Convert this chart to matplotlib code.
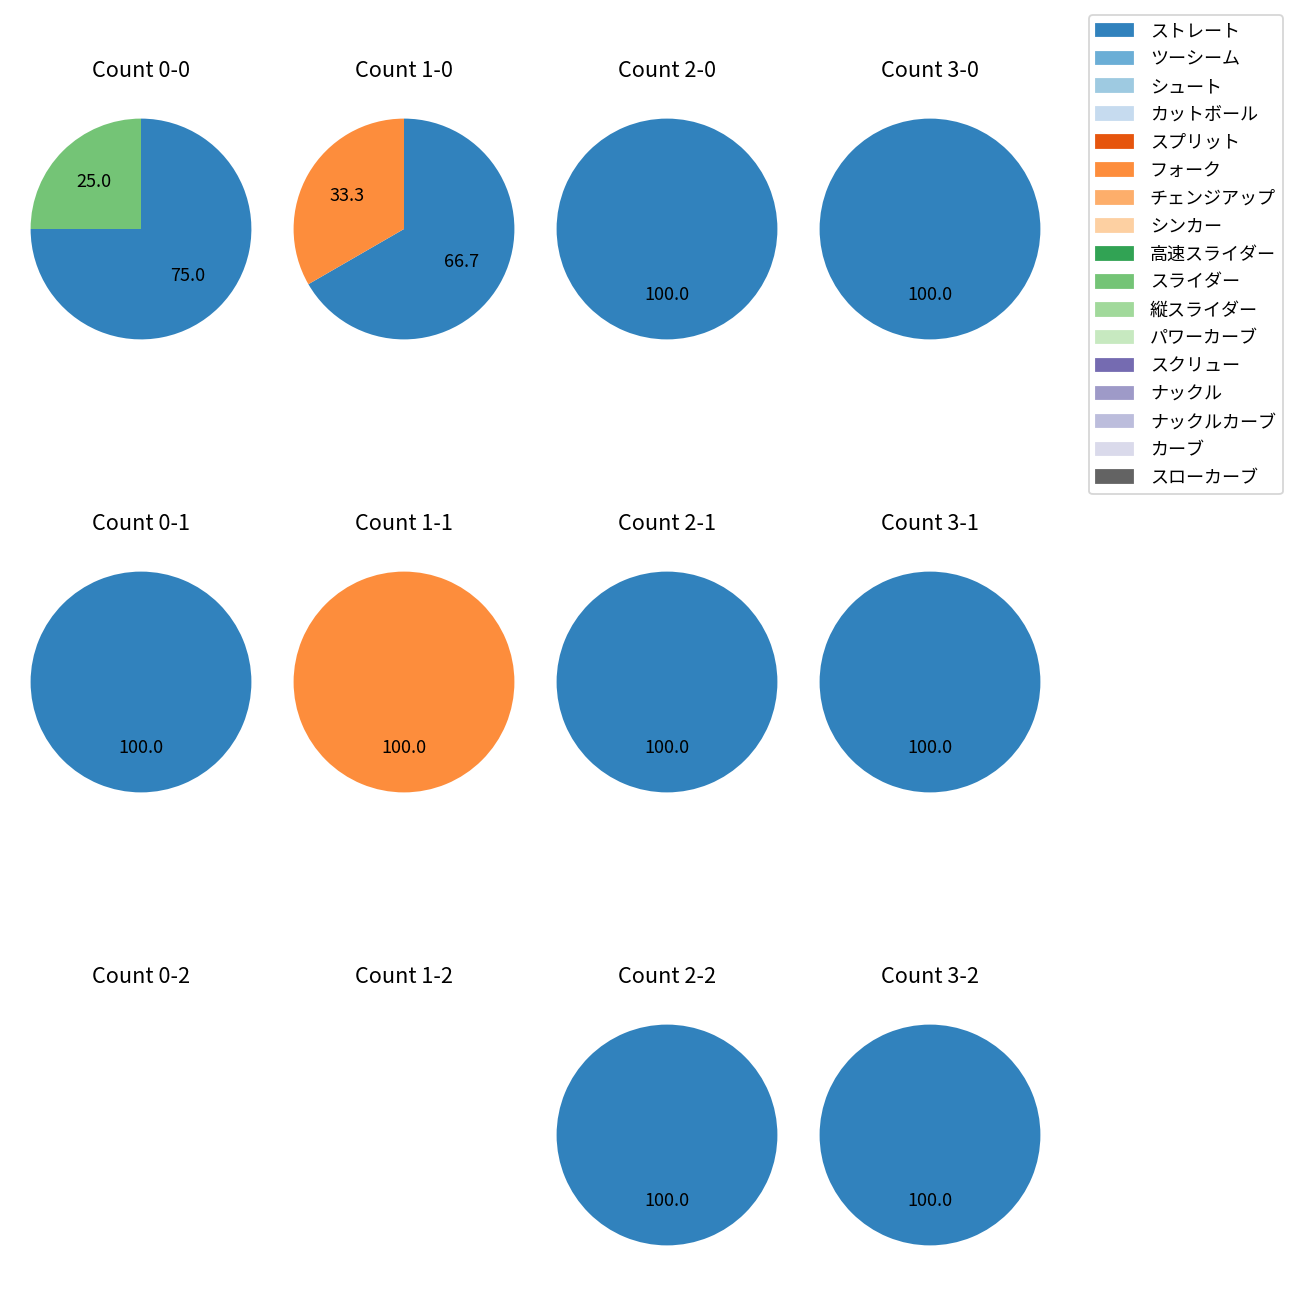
import matplotlib.pyplot as plt
from matplotlib.patches import Patch

plt.rcParams['font.family'] = ['Noto Sans CJK JP', 'DejaVu Sans']

# 球種と色
pitch_names = ['ストレート', 'ツーシーム', 'シュート', 'カットボール', 'スプリット', 'フォーク',
               'チェンジアップ', 'シンカー', '高速スライダー', 'スライダー', '縦スライダー',
               'パワーカーブ', 'スクリュー', 'ナックル', 'ナックルカーブ', 'カーブ', 'スローカーブ']
pitch_colors = ['#3182bd', '#6baed6', '#9ecae1', '#c6dbef', '#e6550d', '#fd8d3c',
                '#fdae6b', '#fdd0a2', '#31a354', '#74c476', '#a1d99b', '#c7e9c0',
                '#756bb1', '#9e9ac8', '#bcbddc', '#dadaeb', '#636363']

# カウントごとの投球数
balls = [0, 1, 2, 3]
strikes = [0, 1, 2]
counts = {
    (0, 0): {'ストレート': 3, 'スライダー': 1},
    (1, 0): {'ストレート': 2, 'フォーク': 1},
    (2, 0): {'ストレート': 1},
    (3, 0): {'ストレート': 1},
    (0, 1): {'ストレート': 1},
    (1, 1): {'フォーク': 1},
    (2, 1): {'ストレート': 1},
    (3, 1): {'ストレート': 1},
    (0, 2): {},
    (1, 2): {},
    (2, 2): {'ストレート': 1},
    (3, 2): {'ストレート': 1},
}

W, H = 1300, 1300
fig = plt.figure(figsize=(10, 10), dpi=130)

# 円の中心 (ピクセル)
cx = [141, 404, 667, 930]
cy = [229, 682, 1135]
box = 276

for s in strikes:
    for b in balls:
        ax = fig.add_axes([(cx[b] - box / 2) / W, 1 - (cy[s] + box / 2) / H, box / W, box / H])
        data = counts[(b, s)]
        vals = [data[p] for p in pitch_names if p in data]
        cols = [pitch_colors[i] for i, p in enumerate(pitch_names) if p in data]
        if vals:
            ax.pie(vals, colors=cols, autopct='%.1f', startangle=90, counterclock=False,
                   textprops={'fontsize': 10})
        else:
            ax.set_xlim(-1.25, 1.25)
            ax.set_ylim(-1.25, 1.25)
        ax.set_aspect('equal')
        ax.axis('off')
        ax.set_title(f'Count {b}-{s}', fontsize=12, pad=7.5)

handles = [Patch(color=c, label=n) for n, c in zip(pitch_names, pitch_colors)]
fig.legend(handles=handles, loc='upper right', bbox_to_anchor=(1292 / W, 1 - 6 / H),
           fontsize=10, labelspacing=0.55, handletextpad=0.95)

fig.savefig('out.png', dpi=130)
